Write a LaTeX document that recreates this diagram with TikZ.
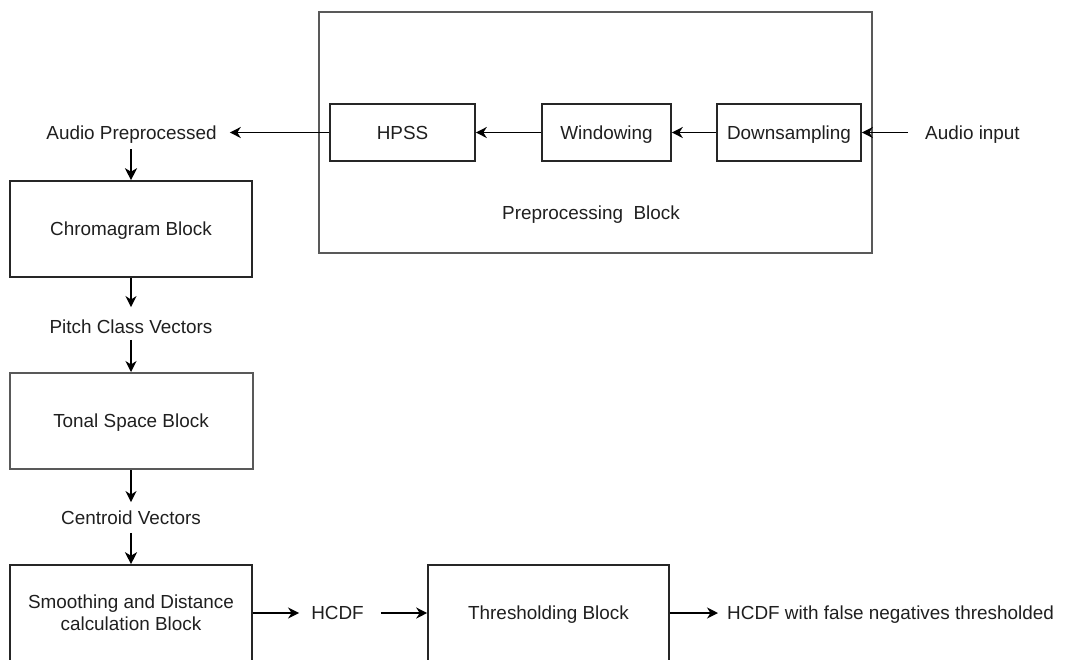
\documentclass[tikz,border=0pt]{standalone}
\usepackage{fontspec}
\setmainfont{Liberation Sans}
\usetikzlibrary{arrows.meta}
\begin{document}
\begin{tikzpicture}[x=1pt,y=-1pt,
  every node/.style={font=\fontsize{18.9}{22}\selectfont, text=black!88},
  strut/.style={text height=15.5pt, text depth=2pt},
  blk/.style={draw=black!85, line width=1.6pt, inner sep=0pt, align=center, strut},
  grayblk/.style={draw=black!65, line width=2pt, inner sep=0pt, align=center, strut},
  lbl/.style={inner sep=0pt, strut},
  arr/.style={draw=black, line width=1.6pt, -{Stealth[length=11pt,width=11pt,inset=3.5pt]}},
  arrthick/.style={draw=black, line width=2.8pt, -{Stealth[length=12pt,width=12pt,inset=3.5pt]}}
]
\useasboundingbox (0,0) rectangle (1067,659);

% preprocessing stage
\node[grayblk, minimum width=553pt, minimum height=241pt] (pre) at (595.5,132.5) {};
\node[lbl] (prelbl) at (591,213) {Preprocessing\ \ Block};
\node[blk, minimum width=145pt, minimum height=57pt] (hpss) at (402.5,132.5) {HPSS};
\node[blk, minimum width=129pt, minimum height=57pt] (win) at (606.5,132.5) {Windowing};
\node[blk, minimum width=144pt, minimum height=57pt] (down) at (789,132.5) {Downsampling};
\node[lbl, anchor=west] (ain) at (925,132.5) {Audio input};

% main chain on the left
\node[lbl] (ap) at (131.5,132.5) {Audio Preprocessed};
\node[blk, minimum width=242pt, minimum height=96pt] (chroma) at (131,229) {Chromagram Block};
\node[lbl] (pcv) at (131,327) {Pitch Class Vectors};
\node[grayblk, minimum width=243pt, minimum height=96pt] (tonal) at (131,421) {Tonal Space Block};
\node[lbl] (cv) at (131,518) {Centroid Vectors};
\node[blk, minimum width=242pt, minimum height=96pt, text height={}, text depth={}] (smooth) at (131,613) {Smoothing and Distance\\calculation Block};

% output chain along the bottom
\node[lbl] (hcdf) at (337.5,613) {HCDF};
\node[blk, minimum width=241pt, minimum height=96pt] (thr) at (548.5,613) {Thresholding Block};
\node[lbl, anchor=west] (out) at (727,613) {HCDF with false negatives thresholded};

% connectors
\draw[arr, shorten <=17pt] (ain.west) -- (down.east);
\draw[arr] (down.west) -- (win.east);
\draw[arr] (win.west) -- (hpss.east);
\draw[arr, shorten >=13pt] (hpss.west) -- (ap.east);
\draw[arrthick, shorten <=8pt] (ap.south -| chroma.north) -- (chroma.north);
\draw[arr, shorten >=11pt] (chroma.south) -- (pcv.north);
\draw[arr, shorten <=4pt] (pcv.south) -- (tonal.north);
\draw[arr, shorten >=7pt] (tonal.south) -- (cv.north);
\draw[arrthick, shorten <=6pt] (cv.south) -- (smooth.north);
\draw[arr, shorten >=12pt] (smooth.east |- hcdf.west) -- (hcdf.west);
\draw[arr, shorten <=17pt] (hcdf.east) -- (thr.west |- hcdf.east);
\draw[arr, shorten >=9pt] (thr.east |- out.west) -- (out.west);
\end{tikzpicture}
\end{document}
